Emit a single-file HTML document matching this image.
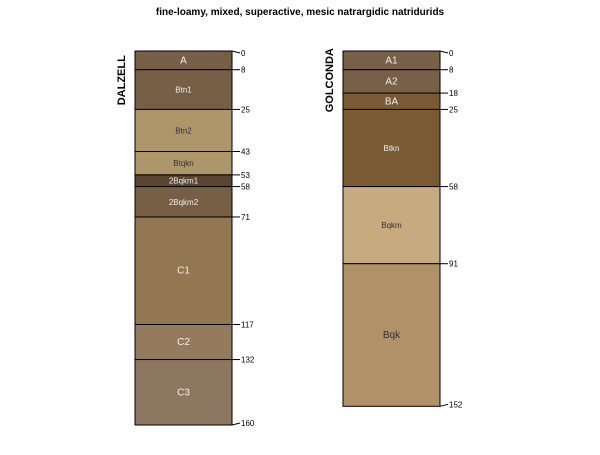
<!DOCTYPE html>
<html><head><meta charset="utf-8"><style>
body{margin:0;background:#fff;}
svg{font-family:"Liberation Sans",sans-serif;}
</style></head><body>
<svg id="chart" width="600" height="450">
<text x="300" y="15" text-anchor="middle" font-size="10" font-weight="bold">fine-loamy, mixed, superactive, mesic natrargidic natridurids</text>
</svg>
<script>
const profileNames=["DALZELL","GOLCONDA"];
const dalzellTops=[0,8,25,43,53,58,71,117,132];
const dalzellBottoms=[8,25,43,53,58,71,117,132,160];
const dalzellNames=["A","Btn1","Btn2","Btqkn","2Bqkm1","2Bqkm2","C1","C2","C3"];
const dalzellColors=["#765f45","#765f45","#ad9669","#ad9669","#5a4630","#765f45","#937752","#957b5e","#8e7760"];
const golcondaTops=[0,8,18,25,58,91];
const golcondaBottoms=[8,18,25,58,91,152];
const golcondaNames=["A1","A2","BA","Btkn","Bqkm","Bqk"];
const golcondaColors=["#776045","#776045","#7a5a35","#7a5a35","#c8aa80","#b09168"];
const NS="http://www.w3.org/2000/svg";
const svg=document.getElementById('chart');
const y0=51, scale=2.3375;
function yScale(d){return y0+d*scale;}
function mk(tag,attrs){const e=document.createElementNS(NS,tag);for(const k in attrs)e.setAttribute(k,attrs[k]);svg.appendChild(e);return e;}
function sizeFor(n){return n.length<=3?10:8;}
function draw(idx,x,w,tops,bottoms,names,colors){
  const lab=mk('text',{x:0,y:0,transform:`translate(${x-10},${(yScale(0)+yScale(25))/2}) rotate(-90)`,'text-anchor':'middle','font-size':11,'font-weight':'bold'});
  lab.textContent=profileNames[idx];
  
  
  for(let i=0;i<tops.length;i++){
    const yt=yScale(tops[i]), yb=yScale(bottoms[i]);
    const r=mk('rect',{x:x,y:yt,width:w,height:yb-yt,fill:colors[i],stroke:'#000','stroke-width':1});
    
    
    const light=(colors[i]==='#ad9669'||colors[i]==='#c8aa80'||colors[i]==='#b09168');
    const t=mk('text',{x:x+w/2,y:(yt+yb)/2+3,'text-anchor':'middle','font-size':sizeFor(names[i]),fill:light?'#333':'#eee'});
    t.textContent=names[i];
    
    
  }
  const depths=[0].concat(bottoms);
  depths.forEach((d,j)=>{
    const yy=yScale(d);
    const first=j===0, last=j===depths.length-1;
    const dy=first?2:(last?-2:0);
    const l=mk('line',{x1:x+w,y1:yy,x2:x+w+8,y2:yy+dy,stroke:'#000','stroke-width':1});
    
    
    const t=mk('text',{x:x+w+9,y:yy+dy+3,'font-size':8,fill:'#000'});
    t.textContent=d;
    
    
  });
}
draw(0,135,97,dalzellTops,dalzellBottoms,dalzellNames,dalzellColors);
draw(1,343,97,golcondaTops,golcondaBottoms,golcondaNames,golcondaColors);
</script>
</body></html>
